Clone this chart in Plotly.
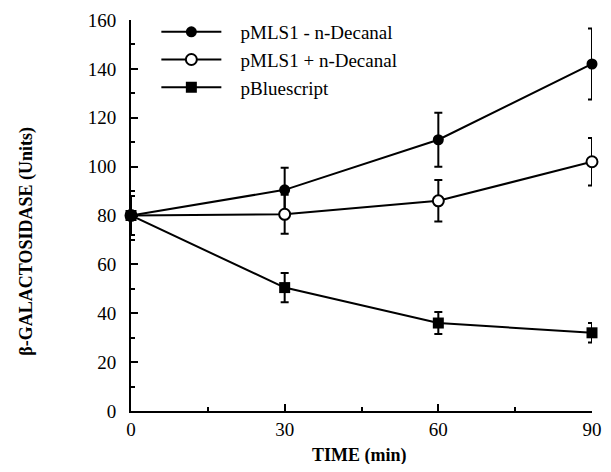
"""
Beta-galactosidase activity over time for pMLS1 +/- n-Decanal and pBluescript.
"""

import plotly.graph_objects as go

# Data
TIME = [0, 30, 60, 90]

SERIES_NAMES = ['pMLS1 - n-Decanal', 'pMLS1 + n-Decanal', 'pBluescript']

minus_decanal = [80, 90.5, 111, 142]
minus_decanal_err = [8, 9, 11, 14.5]

plus_decanal = [80, 80.5, 86, 102]
plus_decanal_err = [8, 8, 8.5, 9.7]

bluescript = [80, 50.5, 36, 32]
bluescript_err = [8, 6, 4.5, 4]

X_TICKS = [0, 30, 60, 90]
Y_TICKS = [0, 20, 40, 60, 80, 100, 120, 140, 160]

FONT = 'Liberation Serif, Times New Roman, serif'
PAD = '\u00a0\u00a0\u00a0'  # gap between legend symbol and label

fig = go.Figure()

styles = [
    (minus_decanal, minus_decanal_err, dict(symbol='circle', size=11, color='black')),
    (plus_decanal, plus_decanal_err,
     dict(symbol='circle', size=11, color='white', line=dict(color='black', width=2))),
    (bluescript, bluescript_err, dict(symbol='square', size=11, color='black')),
]

for name, (vals, errs, marker) in zip(SERIES_NAMES, styles):
    fig.add_trace(go.Scatter(
        x=TIME,
        y=vals,
        name=PAD + name,
        mode='lines+markers',
        line=dict(color='black', width=2),
        marker=marker,
        error_y=dict(type='data', array=errs, color='black', thickness=2, width=4),
        cliponaxis=False,
    ))

# Axis titles placed as annotations so they sit where the original has them
fig.add_annotation(
    text='<b>β-GALACTOSIDASE (Units)</b>',
    xref='paper', yref='paper', x=-0.226, y=0.435,
    xanchor='center', yanchor='middle', textangle=-90,
    showarrow=False, font=dict(family=FONT, size=18, color='black'),
)
fig.add_annotation(
    text='<b>TIME (min)</b>',
    xref='paper', yref='paper', x=0.495, y=-0.115,
    xanchor='center', yanchor='middle',
    showarrow=False, font=dict(family=FONT, size=18, color='black'),
)

fig.update_layout(
    autosize=True,
    margin=dict(l=123, r=11, t=12, b=53, autoexpand=False),
    paper_bgcolor='white',
    plot_bgcolor='white',
    font=dict(family=FONT, size=19, color='black'),
    showlegend=True,
    legend=dict(
        x=0.055, y=1.018,
        xanchor='left', yanchor='top',
        font=dict(family=FONT, size=19, color='black'),
        bgcolor='rgba(0,0,0,0)',
        itemwidth=60,
        tracegroupgap=0,
    ),
)

fig.update_xaxes(
    range=[0, 90],
    tickvals=X_TICKS,
    ticks='inside',
    ticklen=7,
    tickwidth=2,
    tickcolor='black',
    minor=dict(dtick=15, ticks='inside', ticklen=4, tickwidth=2, tickcolor='black'),
    showline=True,
    linecolor='black',
    linewidth=2,
    showgrid=False,
    zeroline=False,
    automargin=False,
    ticklabeloverflow='allow',
    ticklabelstandoff=0,
)

fig.update_yaxes(
    range=[0, 160],
    tickvals=Y_TICKS,
    ticks='inside',
    ticklen=7,
    tickwidth=2,
    tickcolor='black',
    minor=dict(dtick=10, ticks='inside', ticklen=4, tickwidth=2, tickcolor='black'),
    showline=True,
    linecolor='black',
    linewidth=2,
    showgrid=False,
    zeroline=False,
    automargin=False,
    ticklabeloverflow='allow',
    ticklabelstandoff=9,
)

fig.write_html("out.html")
